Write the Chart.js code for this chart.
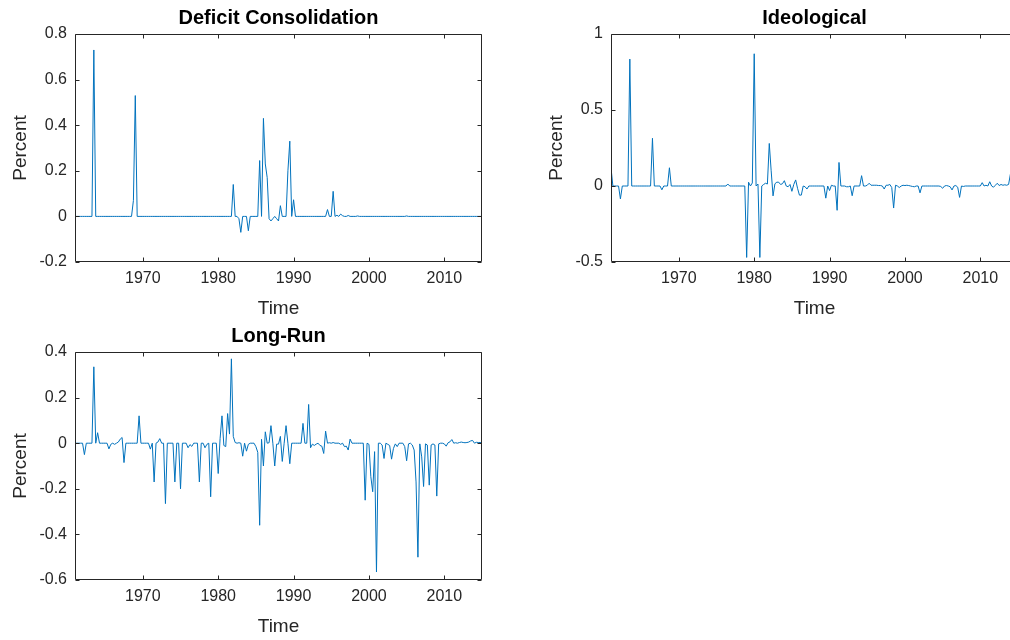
<!DOCTYPE html>
<html>
<head>
<meta charset="utf-8">
<title>Shock series</title>
<script src="https://cdn.jsdelivr.net/npm/chart.js@4.4.1/dist/chart.umd.min.js"></script>
<style>
  html, body { margin: 0; padding: 0; background: #fff; }
  body { position: relative; width: 1010px; height: 640px; overflow: hidden; }
  canvas { position: absolute; }
</style>
</head>
<body>
<canvas id="deficit" width="500" height="320" style="left:0px;top:0px"></canvas>
<canvas id="ideological" width="500" height="320" style="left:536px;top:0px"></canvas>
<canvas id="longrun" width="500" height="320" style="left:0px;top:318px"></canvas>
<script>
// quarterly observations, 1961Q1 onwards
const startYear = 1961;
const endYear = 2015;
const yearTicks = [1970, 1980, 1990, 2000, 2010];

const deficitTicks = [-0.2, 0, 0.2, 0.4, 0.6, 0.8];
const ideologicalTicks = [-0.5, 0, 0.5, 1];
const longRunTicks = [-0.6, -0.4, -0.2, 0, 0.2, 0.4];

// two years per row
const deficit = [
  0, 0, 0, 0, 0, 0, 0, 0,
  0, 0, 0.73, 0, 0, 0, 0, 0,
  0, 0, 0, 0, 0, 0, 0, 0,
  0, 0, 0, 0, 0, 0, 0, 0.07,
  0.53, 0, 0, 0, 0, 0, 0, 0,
  0, 0, 0, 0, 0, 0, 0, 0,
  0, 0, 0, 0, 0, 0, 0, 0,
  0, 0, 0, 0, 0, 0, 0, 0,
  0, 0, 0, 0, 0, 0, 0, 0,
  0, 0, 0, 0, 0, 0, 0, 0,
  0, 0, 0, 0, 0.14, 0, 0, -0.01,
  -0.07, 0, 0, 0, -0.063, 0, 0, 0,
  0, 0, 0.245, 0, 0.43, 0.23, 0.17, -0.01,
  -0.02, -0.01, 0, -0.01, -0.02, 0.047, 0, 0,
  0, 0.2, 0.33, 0, 0.073, 0, 0, 0,
  0, 0, 0, 0, 0, 0, 0, 0,
  0, 0, 0, 0, 0, 0, 0.03, 0,
  0, 0.11, 0, 0.005, 0, 0.01, 0.003, 0,
  0, 0.004, 0, 0, 0, 0, 0.002, 0,
  0, 0, 0, 0, 0, 0, 0, 0,
  0, 0, 0, 0, 0, 0, 0, 0,
  0, 0, 0, 0, 0, 0, 0, 0,
  0.002, 0, 0, 0, 0, 0, 0, 0,
  0, 0, 0, 0, 0, 0, 0, 0,
  0, 0, 0, 0, 0, 0, 0, 0,
  0, 0, 0, 0, 0, 0, 0, 0,
  0, 0, 0, 0, 0, 0, 0, 0,
  0
];

const ideological = [
  0.12, 0, 0, 0, 0, -0.085, 0, 0,
  0, 0, 0.835, 0, 0, 0, 0, 0,
  0, 0, 0, 0, 0, 0, 0.314, 0,
  0, 0, 0, -0.025, 0, 0, 0, 0.12,
  0, 0, 0, 0, 0, 0, 0, 0,
  0, 0, 0, 0, 0, 0, 0, 0,
  0, 0, 0, 0, 0, 0, 0, 0,
  0, 0, 0, 0, 0, 0, 0.013, 0,
  0, 0, 0, 0, 0, 0, 0, 0,
  -0.47, 0.025, 0, 0.02, 0.87, 0, 0.013, -0.47,
  0, 0.01, 0.018, 0.013, 0.28, 0.1, -0.065, 0.015,
  0.025, 0.025, 0.01, 0.015, 0.035, 0, -0.005, 0.01,
  -0.035, 0.01, 0.04, -0.015, -0.06, -0.06, 0, -0.005,
  -0.02, 0, 0, 0, 0, 0, 0, 0,
  0, 0, -0.08, 0, -0.03, 0.005, 0, 0,
  -0.16, 0.155, 0, 0, 0, -0.005, -0.005, 0,
  -0.064, 0, 0, 0, 0, 0.068, 0, 0,
  0.005, 0.018, 0.005, 0.005, 0.005, 0.005, 0.003, 0.003,
  0, -0.02, 0.005, 0.005, 0.01, -0.01, -0.145, 0.005,
  0, -0.01, 0, 0.005, 0.003, 0.005, 0.003, 0,
  -0.003, -0.005, 0, 0, -0.045, 0, 0, 0,
  0, 0, 0, 0, 0, 0, 0, -0.003,
  -0.015, 0, 0.003, 0, -0.005, -0.026, 0, 0.003,
  -0.008, -0.075, 0, -0.003, 0, 0, 0, 0,
  0, 0, 0, 0, 0, 0.022, 0, 0.005,
  0, 0.028, 0, -0.008, 0.005, 0.018, 0.003, 0.01,
  0.005, 0.008, 0.005, 0.01, 0.08
];

const longRun = [
  0, 0, 0, 0, 0, -0.05, 0, 0,
  0, 0, 0.335, 0, 0.046, 0, 0, 0,
  0, 0, -0.025, -0.005, 0, -0.005, 0, 0.005,
  0.018, 0.025, -0.085, 0, 0, 0, 0, 0,
  0, 0, 0.12, 0, 0, 0, 0, 0,
  -0.026, 0, -0.17, 0, 0.005, 0.02, 0, 0,
  -0.265, 0, 0, 0, 0, -0.17, 0, 0,
  -0.2, 0, 0, 0, -0.02, -0.006, -0.014, 0,
  0, 0, -0.17, 0, 0, -0.02, -0.005, 0,
  -0.235, 0, 0, 0, -0.133, 0.02, 0.12, -0.01,
  -0.015, 0.13, 0.04, 0.37, 0.03, 0.003, 0, 0.002,
  0, -0.057, 0, -0.035, -0.005, 0, 0, 0,
  -0.015, -0.04, -0.36, 0.017, -0.1, 0.05, 0, 0.002,
  0.077, 0, -0.1, -0.004, -0.004, 0.03, -0.08, 0,
  0.077, 0, -0.09, 0, 0, 0, 0, 0,
  0, 0.087, 0, 0, 0.17, -0.02, -0.004, -0.01,
  -0.004, 0, -0.01, -0.013, -0.045, 0.053, 0, 0.002,
  0, 0.003, 0, 0, 0, -0.005, 0, -0.015,
  -0.013, -0.03, 0.018, 0, 0, 0, 0, 0,
  0, 0, -0.25, 0, -0.005, -0.147, -0.213, -0.037,
  -0.565, 0, 0, -0.008, -0.067, 0, -0.005, -0.01,
  -0.07, -0.023, -0.003, -0.015, 0, 0, 0, -0.015,
  -0.077, -0.003, 0, -0.008, -0.03, -0.17, -0.5, -0.003,
  -0.06, -0.19, -0.003, -0.008, -0.184, -0.008, -0.003, -0.008,
  -0.232, -0.003, 0, 0, -0.003, -0.013, 0.002, 0.006,
  0.016, 0, 0.002, 0, 0.003, 0.005, 0.003, 0.002,
  0.003, 0.005, 0.01, 0.012, 0, 0.004, 0.003, 0.003,
  0.003
];

const quarters = [];
for (let q = 0; q < deficit.length; q++) quarters.push(startYear + q / 4);

const lineColor = '#0072BD';
const textColor = '#262626';
const fontFamily = '"Liberation Sans", Arial, Helvetica, sans-serif';

// MATLAB-style box with inward tick marks on all four sides
const axesBox = {
  id: 'axesBox',
  afterDatasetsDraw(chart) {
    const { ctx, chartArea: a, scales: { x, y } } = chart;
    const L = Math.round(a.left) + 0.5, R = Math.round(a.right) - 0.5;
    const T = Math.round(a.top) + 0.5, B = Math.round(a.bottom) - 0.5;
    const len = 4;
    ctx.save();
    ctx.strokeStyle = textColor;
    ctx.lineWidth = 1;
    ctx.beginPath();
    ctx.rect(L, T, R - L, B - T);
    x.ticks.forEach(t => {
      const px = Math.round(x.getPixelForValue(t.value)) + 0.5;
      ctx.moveTo(px, B); ctx.lineTo(px, B - len);
      ctx.moveTo(px, T); ctx.lineTo(px, T + len);
    });
    y.ticks.forEach(t => {
      const py = Math.round(y.getPixelForValue(t.value)) + 0.5;
      ctx.moveTo(L, py); ctx.lineTo(L + len, py);
      ctx.moveTo(R, py); ctx.lineTo(R - len, py);
    });
    ctx.stroke();
    ctx.restore();
  }
};

function makePanel(id, title, values, yTicks) {
  const points = values.map((v, i) => ({ x: quarters[i], y: v }));
  return new Chart(document.getElementById(id), {
    type: 'line',
    data: {
      datasets: [{
        data: points,
        borderColor: lineColor,
        borderWidth: 1,
        pointRadius: 0,
        tension: 0,
        fill: false
      }]
    },
    options: {
      responsive: false,
      animation: false,
      devicePixelRatio: 1,
      layout: { padding: { left: 0, right: 18, top: 0, bottom: 0 } },
      plugins: {
        legend: { display: false },
        tooltip: { enabled: false },
        title: {
          display: true,
          text: title,
          fullSize: false,
          color: '#000',
          font: { family: fontFamily, size: 20, weight: 'bold', lineHeight: 1 },
          padding: { top: 8, bottom: 6 }
        }
      },
      scales: {
        x: {
          type: 'linear',
          min: startYear,
          max: endYear,
          grid: { display: false, drawTicks: false },
          border: { display: false },
          afterBuildTicks: s => { s.ticks = yearTicks.map(v => ({ value: v })); },
          afterFit: s => { s.height = 58; },
          ticks: {
            autoSkip: false,
            maxRotation: 0,
            padding: 7,
            color: textColor,
            font: { family: fontFamily, size: 16 },
            callback: v => String(v)
          },
          title: {
            display: true,
            text: 'Time',
            color: textColor,
            font: { family: fontFamily, size: 19, lineHeight: 1 },
            padding: { top: 0, bottom: 1.5 }
          }
        },
        y: {
          min: yTicks[0],
          max: yTicks[yTicks.length - 1],
          grid: { display: false, drawTicks: false },
          border: { display: false },
          afterBuildTicks: s => { s.ticks = yTicks.map(v => ({ value: v })); },
          afterFit: s => { s.width = 75; },
          ticks: {
            autoSkip: false,
            padding: 8,
            color: textColor,
            font: { family: fontFamily, size: 16 },
            callback: v => String(v)
          },
          title: {
            display: true,
            text: 'Percent',
            color: textColor,
            font: { family: fontFamily, size: 19, lineHeight: 1 },
            padding: { top: 11, bottom: 0 }
          }
        }
      }
    },
    plugins: [axesBox]
  });
}

makePanel('deficit', 'Deficit Consolidation', deficit, deficitTicks);
makePanel('ideological', 'Ideological', ideological, ideologicalTicks);
makePanel('longrun', 'Long-Run', longRun, longRunTicks);
</script>
</body>
</html>
